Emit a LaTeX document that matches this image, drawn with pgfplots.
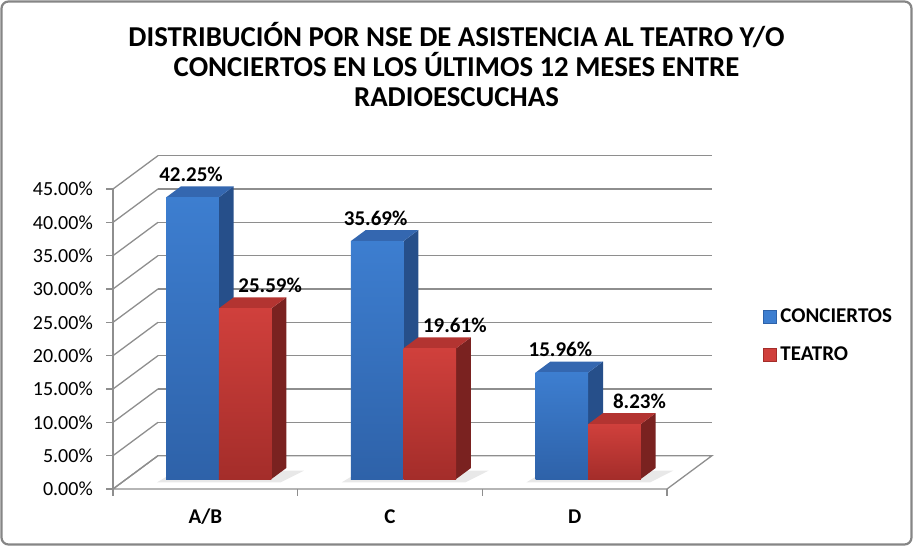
\documentclass[border=0pt]{standalone}
\usepackage{fontspec}
\setmainfont{Carlito}
\usepackage{pgfplots}
\pgfplotsset{compat=1.18}
\definecolor{gridc}{HTML}{8E8E8E}
\definecolor{framec}{HTML}{868686}
\definecolor{bfront1}{HTML}{3D7ED0}
\definecolor{bfront2}{HTML}{2E62A9}
\definecolor{bside}{HTML}{264F8A}
\definecolor{btop}{HTML}{3467B0}
\definecolor{rfront1}{HTML}{D0403C}
\definecolor{rfront2}{HTML}{A42D2A}
\definecolor{rside}{HTML}{7A2220}
\definecolor{rtop}{HTML}{B33431}
\definecolor{shadowc}{HTML}{E8E8E8}
\begin{document}
\begin{tikzpicture}
\begin{axis}[
  x={(184.67bp,0bp)}, y={(45bp,33.33bp)}, z={(0bp,6.6667bp)},
  xmin=0,xmax=3,ymin=0,ymax=1,zmin=0,zmax=45,
  axis line style={draw=none},
  tick style={draw=none},
  ztick={0,5,...,45},
  zticklabel={\pgfmathprintnumber[assume math mode=true,fixed,fixed zerofill,precision=2]{\tick}\%},
  xtick={0.5,1.5,2.5}, xticklabels={A/B,C,D},
  ytick=\empty,
  zmajorgrids=true,
  grid style={gridc, line width=1.3bp},
  zticklabel style={font=\fontsize{20bp}{24bp}\selectfont, anchor=east, inner sep=0pt, xshift=-20bp},
  xticklabel style={font=\fontsize{21bp}{24bp}\selectfont\bfseries, anchor=base, inner sep=0pt, yshift=-34bp},
  clip=false,
  legend style={draw=none, fill=none, at={(axis description cs:1.08,0.46)}, anchor=west,
    font=\fontsize{21bp}{24bp}\selectfont\bfseries, row sep=21bp,
    nodes={inner sep=1bp}},
  legend cell align=left,
]
\coordinate (O) at (axis cs:0,0,0);
\draw[gridc, line width=1.3bp] (axis cs:0,0,0) -- (axis cs:3,0,0) -- (axis cs:3,1,0) -- (axis cs:0,1,0) -- cycle;
\draw[gridc, line width=1.3bp] (axis cs:0,0,0) -- (axis cs:0,0,45);
\pgfplotsinvokeforeach{0,5,10,15,20,25,30,35,40,45}{\draw[gridc,line width=1.3bp] (axis cs:0,0,#1) -- ++(-7bp,0bp);}
\pgfplotsinvokeforeach{0,1,2,3}{\draw[gridc,line width=1.3bp] (axis cs:#1,0,0) -- ++(0bp,-7bp);}

% floor shadows
\addplot3[fill=shadowc, draw=none, forget plot] coordinates {(0.19,0.2,0) (0.86,0.2,0) (0.9,0.55,0) (0.21,0.55,0)};
\addplot3[fill=shadowc, draw=none, forget plot] coordinates {(1.19,0.2,0) (1.86,0.2,0) (1.9,0.55,0) (1.21,0.55,0)};
\addplot3[fill=shadowc, draw=none, forget plot] coordinates {(2.19,0.2,0) (2.86,0.2,0) (2.9,0.55,0) (2.21,0.55,0)};

% A/B CONCIERTOS
\addplot3[fill=bside, draw=none, forget plot] coordinates {(0.5,0.3,0) (0.5,0.63,0) (0.5,0.63,42.25) (0.5,0.3,42.25)};
\addplot3[fill=btop, draw=none, forget plot] coordinates {(0.215,0.3,42.25) (0.5,0.3,42.25) (0.5,0.63,42.25) (0.215,0.63,42.25)};
\addplot3[top color=bfront1, bottom color=bfront2, draw=none, forget plot] coordinates {(0.215,0.3,0) (0.5,0.3,0) (0.5,0.3,42.25) (0.215,0.3,42.25)};
% A/B TEATRO
\addplot3[fill=rside, draw=none, forget plot] coordinates {(0.785,0.3,0) (0.785,0.63,0) (0.785,0.63,25.59) (0.785,0.3,25.59)};
\addplot3[fill=rtop, draw=none, forget plot] coordinates {(0.5,0.3,25.59) (0.785,0.3,25.59) (0.785,0.63,25.59) (0.5,0.63,25.59)};
\addplot3[top color=rfront1, bottom color=rfront2, draw=none, forget plot] coordinates {(0.5,0.3,0) (0.785,0.3,0) (0.785,0.3,25.59) (0.5,0.3,25.59)};
% C CONCIERTOS
\addplot3[fill=bside, draw=none, forget plot] coordinates {(1.5,0.3,0) (1.5,0.63,0) (1.5,0.63,35.69) (1.5,0.3,35.69)};
\addplot3[fill=btop, draw=none, forget plot] coordinates {(1.215,0.3,35.69) (1.5,0.3,35.69) (1.5,0.63,35.69) (1.215,0.63,35.69)};
\addplot3[top color=bfront1, bottom color=bfront2, draw=none, forget plot] coordinates {(1.215,0.3,0) (1.5,0.3,0) (1.5,0.3,35.69) (1.215,0.3,35.69)};
% C TEATRO
\addplot3[fill=rside, draw=none, forget plot] coordinates {(1.785,0.3,0) (1.785,0.63,0) (1.785,0.63,19.61) (1.785,0.3,19.61)};
\addplot3[fill=rtop, draw=none, forget plot] coordinates {(1.5,0.3,19.61) (1.785,0.3,19.61) (1.785,0.63,19.61) (1.5,0.63,19.61)};
\addplot3[top color=rfront1, bottom color=rfront2, draw=none, forget plot] coordinates {(1.5,0.3,0) (1.785,0.3,0) (1.785,0.3,19.61) (1.5,0.3,19.61)};
% D CONCIERTOS
\addplot3[fill=bside, draw=none, forget plot] coordinates {(2.5,0.3,0) (2.5,0.63,0) (2.5,0.63,15.96) (2.5,0.3,15.96)};
\addplot3[fill=btop, draw=none, forget plot] coordinates {(2.215,0.3,15.96) (2.5,0.3,15.96) (2.5,0.63,15.96) (2.215,0.63,15.96)};
\addplot3[top color=bfront1, bottom color=bfront2, draw=none, forget plot] coordinates {(2.215,0.3,0) (2.5,0.3,0) (2.5,0.3,15.96) (2.215,0.3,15.96)};
% D TEATRO
\addplot3[fill=rside, draw=none, forget plot] coordinates {(2.785,0.3,0) (2.785,0.63,0) (2.785,0.63,8.23) (2.785,0.3,8.23)};
\addplot3[fill=rtop, draw=none, forget plot] coordinates {(2.5,0.3,8.23) (2.785,0.3,8.23) (2.785,0.63,8.23) (2.5,0.63,8.23)};
\addplot3[top color=rfront1, bottom color=rfront2, draw=none, forget plot] coordinates {(2.5,0.3,0) (2.785,0.3,0) (2.785,0.3,8.23) (2.5,0.3,8.23)};

% data labels
\addplot3[only marks, mark=none, point meta=z, forget plot,
  nodes near coords={\pgfmathprintnumber[assume math mode=true,fixed,fixed zerofill,precision=2]{\pgfplotspointmeta}\%},
  nodes near coords style={font=\fontsize{21bp}{24bp}\selectfont\bfseries, anchor=base, yshift=16bp, xshift=-1.5bp, inner sep=0pt}]
  coordinates {(0.3575,0.3,42.25) (1.3575,0.3,35.69) (2.3575,0.3,15.96)};
\addplot3[only marks, mark=none, point meta=z, forget plot,
  nodes near coords={\pgfmathprintnumber[assume math mode=true,fixed,fixed zerofill,precision=2]{\pgfplotspointmeta}\%},
  nodes near coords style={font=\fontsize{21bp}{24bp}\selectfont\bfseries, anchor=base, yshift=16bp, xshift=25bp, inner sep=0pt}]
  coordinates {(0.6425,0.3,25.59) (1.6425,0.3,19.61) (2.6425,0.3,8.23)};

\addlegendimage{legend image code/.code={\draw[fill=bfront1, draw=bfront2, line width=0.6bp] (0bp,-6.5bp) rectangle (13bp,6.5bp); \path[draw=none, fill=none] (13bp,0bp) rectangle (16bp,0.1bp);}}
\addlegendentry{CONCIERTOS}
\addlegendimage{legend image code/.code={\draw[fill=rfront1, draw=rfront2, line width=0.6bp] (0bp,-6.5bp) rectangle (13bp,6.5bp); \path[draw=none, fill=none] (13bp,0bp) rectangle (16bp,0.1bp);}}
\addlegendentry{TEATRO}
\end{axis}
\pgfresetboundingbox
\begin{scope}[shift={(O)}]
\path[use as bounding box] (-113bp,-58bp) rectangle (800bp,489bp);
\draw[framec, line width=2.2bp, rounded corners=7bp] (-111.5bp,-55.5bp) rectangle (798.5bp,487.5bp);
\begin{scope}[every node/.style={anchor=base, inner sep=0pt, font=\fontsize{28.8bp}{32bp}\selectfont\bfseries}]
\node at (343.5bp,442bp) {DISTRIBUCIÓN POR NSE DE ASISTENCIA AL TEATRO Y/O};
\node at (343.5bp,412.5bp) {CONCIERTOS EN LOS ÚLTIMOS 12 MESES ENTRE};
\node at (343.5bp,382.5bp) {RADIOESCUCHAS};
\end{scope}
\end{scope}
\end{tikzpicture}
\end{document}
